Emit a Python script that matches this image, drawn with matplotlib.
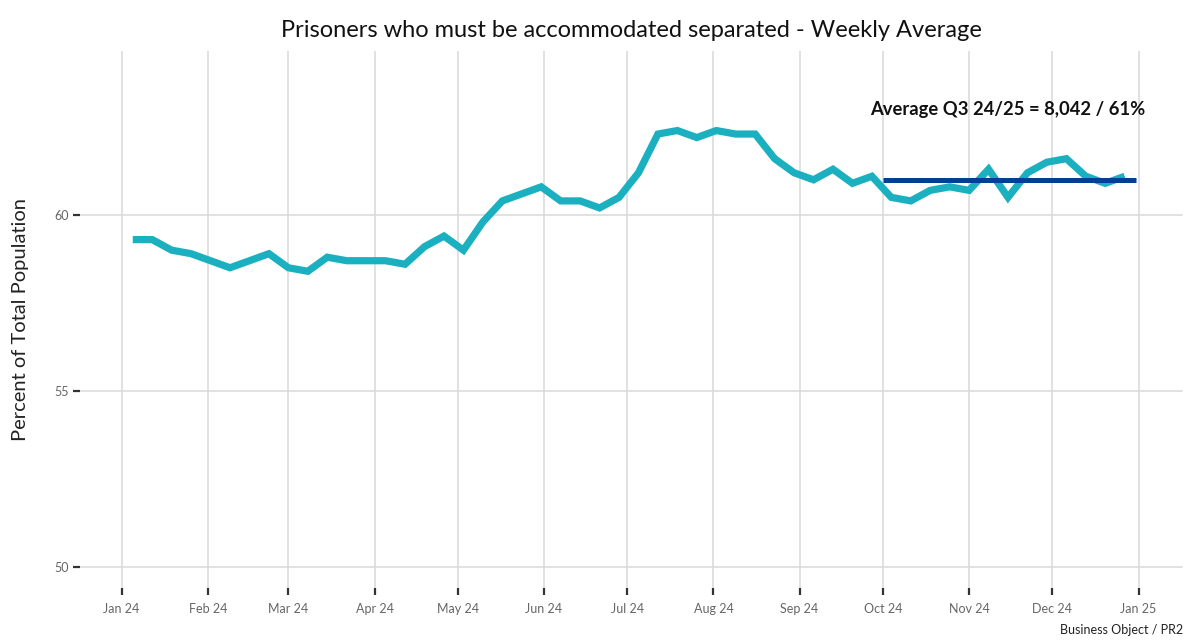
"""Weekly average share of prisoners who must be accommodated separated."""

import numpy as np
import pandas as pd
import matplotlib
matplotlib.use('Agg')
import matplotlib.pyplot as plt
import matplotlib.dates as mdates

plt.rcParams['font.family'] = ['Lato', 'DejaVu Sans']

# Weekly values (percent of total population)
week_start = '2024-01-05'
weekly_pct = [
    59.3, 59.3, 59.0, 58.9, 58.7, 58.5, 58.7, 58.9, 58.5, 58.4,
    58.8, 58.7, 58.7, 58.7, 58.6, 59.1, 59.4, 59.0, 59.8, 60.4,
    60.6, 60.8, 60.4, 60.4, 60.2, 60.5, 61.2, 62.3, 62.4, 62.2,
    62.4, 62.3, 62.3, 61.6, 61.2, 61.0, 61.3, 60.9, 61.1, 60.5,
    60.4, 60.7, 60.8, 60.7, 61.3, 60.5, 61.2, 61.5, 61.6, 61.1,
    60.9, 61.1,
]

# Quarter average
q3_start, q3_end = '2024-10-01', '2024-12-31'
q3_avg = 61.0
q3_label = 'Average Q3 24/25 = 8,042 / 61%'
label_date, label_y = '2024-11-15', 63.0

y_ticks = [50, 55, 60]
x_lim = ('2023-12-17', '2025-01-17')
y_lim = (49.4, 64.66)

TEAL = '#1bb0c0'
NAVY = '#003f92'


def main():
    dates = pd.date_range(week_start, periods=len(weekly_pct), freq='7D')

    fig = plt.figure(figsize=(11.92, 6.44), dpi=100)
    ax = fig.add_axes([0.0671, 0.087, 0.9254, 0.8338])

    ax.plot(dates, weekly_pct, color=TEAL, linewidth=5.2, solid_joinstyle='miter',
            solid_capstyle='butt', zorder=3)
    ax.plot([pd.Timestamp(q3_start), pd.Timestamp(q3_end)], [q3_avg, q3_avg],
            color=NAVY, linewidth=3.6, solid_capstyle='butt', zorder=4)
    ax.text(pd.Timestamp(label_date), label_y, q3_label, ha='center', va='center',
            fontsize=13.2, fontweight='bold', color='#111111')

    ax.set_xlim(pd.Timestamp(x_lim[0]), pd.Timestamp(x_lim[1]))
    ax.set_ylim(*y_lim)
    ax.set_yticks(y_ticks)
    ax.xaxis.set_major_locator(mdates.MonthLocator())
    ax.xaxis.set_major_formatter(mdates.DateFormatter('%b %y'))

    for s in ax.spines.values():
        s.set_visible(False)
    ax.grid(True, color='#d9d9d9', linewidth=1.1)
    ax.set_axisbelow(True)
    ax.tick_params(axis='both', colors='#333333', labelcolor='#666666', labelsize=9,
                   length=5, width=1.6)
    ax.tick_params(axis='x', pad=6)
    ax.tick_params(axis='y', pad=3)

    ax.set_ylabel('Percent of Total Population', fontsize=14.5, color='#222222', labelpad=18)
    ax.set_title('Prisoners who must be accommodated separated - Weekly Average',
                 fontsize=17, color='#111111', pad=10)
    fig.text(0.9925, 0.012, 'Business Object / PR2', ha='right', va='bottom',
             fontsize=9, color='#222222')

    fig.savefig('out.png', dpi=100)
    plt.close(fig)


if __name__ == '__main__':
    main()
